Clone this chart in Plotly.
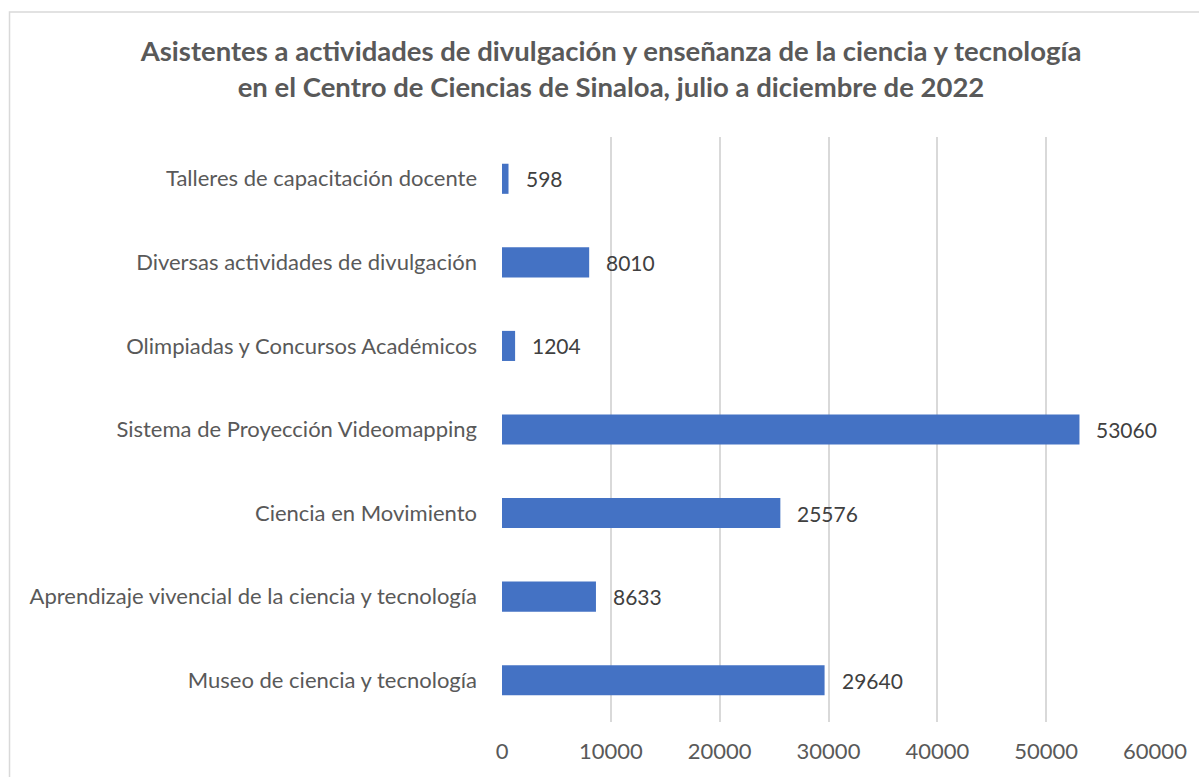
import plotly.graph_objects as go

categories = [
    "Museo de ciencia y tecnología",
    "Aprendizaje vivencial de la ciencia y tecnología",
    "Ciencia en Movimiento",
    "Sistema de Proyección Videomapping",
    "Olimpiadas y Concursos Académicos",
    "Diversas actividades de divulgación",
    "Talleres de capacitación docente",
]
values = [29640, 8633, 25576, 53060, 1204, 8010, 598]
x_ticks = [0, 10000, 20000, 30000, 40000, 50000, 60000]

title = ("<b>Asistentes a actividades de divulgación y enseñanza de la ciencia y tecnología<br>"
         "en el Centro de Ciencias de Sinaloa, julio a diciembre de 2022</b>")

FONT = "Lato"

fig = go.Figure()
fig.add_trace(go.Bar(
    y=categories, x=values, orientation="h",
    marker=dict(color="#4472C4", line=dict(width=0)),
    hoverinfo="x+y",
))

for c, v in zip(categories, values):
    fig.add_annotation(
        x=v, y=c, text=str(v), showarrow=False,
        xanchor="left", yanchor="middle", xshift=15,
        font=dict(family=FONT, size=21, color="#404040"),
    )

L, R, T, B = 502, 42, 137, 55
W, H = 1199, 777
pw = W - L - R
ph = H - T - B

# outer chart border (left and top visible)
x_left = (8 - L) / pw
y_top = (H - B - 12) / ph
y_bot = (H - B - 790) / ph
x_right = (W + 10 - L) / pw
fig.add_shape(type="rect", xref="paper", yref="paper",
              x0=x_left, x1=x_right, y0=y_bot, y1=y_top,
              line=dict(color="#D9D9D9", width=1.5), fillcolor="rgba(0,0,0,0)",
              layer="below")

fig.update_layout(
    width=W, height=H,
    margin=dict(l=L, r=R, t=T, b=B),
    paper_bgcolor="white", plot_bgcolor="white",
    bargap=0.64,
    showlegend=False,
    title=dict(text=title, x=611 / W, xanchor="center",
               y=1 - 61 / H, yanchor="middle",
               font=dict(family=FONT, size=27.5, color="#595959")),
    font=dict(family=FONT, color="#595959"),
)
fig.update_xaxes(
    range=[0, 60000], tickvals=x_ticks, ticktext=[str(t) for t in x_ticks],
    showgrid=True, gridcolor="#D9D9D9", gridwidth=1.5,
    zeroline=False, showline=False,
    tickfont=dict(family=FONT, size=22, color="#595959"),
    ticks="", ticklabelstandoff=14,
)
fig.update_yaxes(
    categoryorder="array", categoryarray=categories,
    showgrid=False, zeroline=False, showline=False,
    tickfont=dict(family=FONT, size=22, color="#595959"),
    ticks="", ticklabelstandoff=24,
)

fig.write_html(
    "out.html",
    config={"displayModeBar": False},
    post_script="document.body.style.margin='0';document.body.style.overflow='hidden';",
)
